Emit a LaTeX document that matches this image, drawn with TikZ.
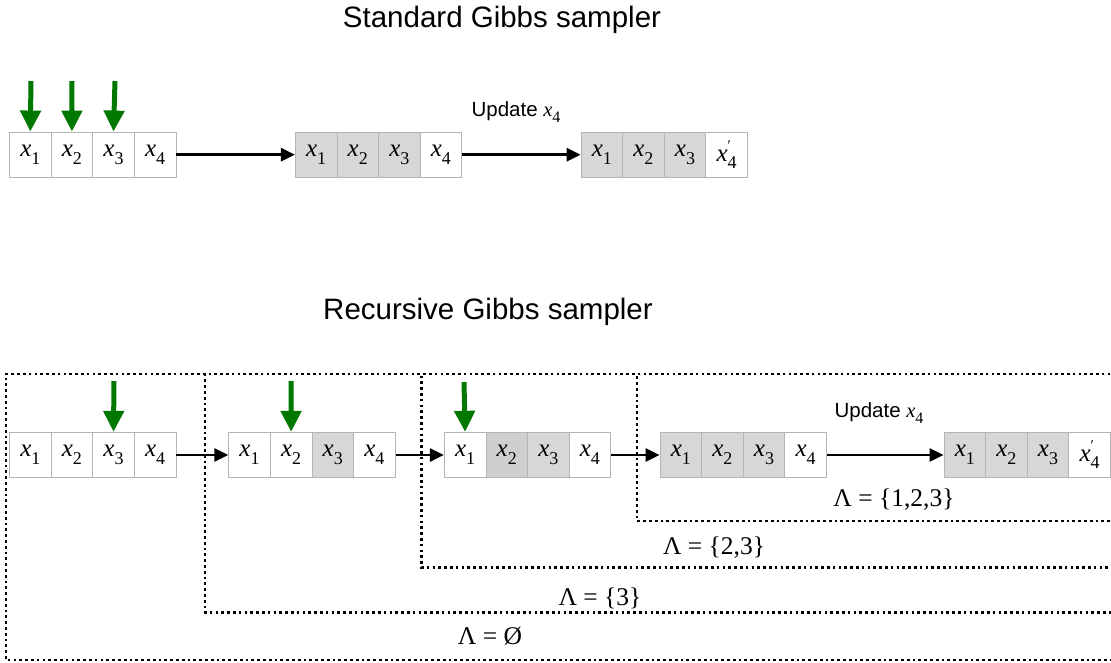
\documentclass[tikz,border=0pt]{standalone}
\usepackage{fontspec}
\setmainfont{Liberation Serif}
\newfontfamily\hel{Liberation Sans}
\usetikzlibrary{arrows.meta}
\definecolor{cellgray}{HTML}{D7D7D7}
\definecolor{cellgrayd}{HTML}{CFCFCF}
\definecolor{cellline}{HTML}{B4B4B4}
\definecolor{pickgreen}{RGB}{0,120,0}
\newcommand\xsub[2][18]{{\itshape x}\raisebox{-0.3em}{\fontsize{#1}{#1}\selectfont #2}}
\newcommand\xprm[1]{{\itshape x}\rlap{\raisebox{0.42em}{\fontsize{15}{15}\selectfont\char"2032}}\raisebox{-0.3em}{\fontsize{18}{18}\selectfont #1}}
\begin{document}
\begin{tikzpicture}[x=1pt,y=-1pt,
  cell/.style={draw=cellline, line width=0.8pt, minimum width=41.6pt, minimum height=45.5pt, inner sep=0pt, font=\fontsize{25}{25}\selectfont},
  gcell/.style={cell, fill=cellgray},
  dcell/.style={cell, fill=cellgrayd},
  flow/.style={-{Triangle[length=14pt,width=13pt]}, line width=2.8pt},
  pick/.style={-{Triangle[length=21pt,width=20pt]}, draw=pickgreen, line width=5pt},
  frame/.style={line width=2.7pt, dash pattern=on 2.7pt off 3.1pt},
  title/.style={font=\hel\fontsize{29.5}{33}\selectfont},
  upd/.style={font=\hel\fontsize{20.5}{23}\selectfont},
  lam/.style={font=\fontsize{25.5}{27}\selectfont}]
\useasboundingbox (0,0) rectangle (1111,662);

% ---------- Standard Gibbs sampler ----------
\node[title] (ttl1) at (502,20) {Standard Gibbs sampler};

\node[cell] (T1-1) at (30.3,154.7) {\xsub{1}};
\node[cell] (T1-2) at (71.9,154.7) {\xsub{2}};
\node[cell] (T1-3) at (113.5,154.7) {\xsub{3}};
\node[cell] (T1-4) at (155.1,154.7) {\xsub{4}};

\node[gcell] (T2-1) at (316.1,154.7) {\xsub{1}};
\node[gcell] (T2-2) at (357.7,154.7) {\xsub{2}};
\node[gcell] (T2-3) at (399.3,154.7) {\xsub{3}};
\node[cell] (T2-4) at (440.9,154.7) {\xsub{4}};

\node[gcell] (T3-1) at (601.8,154.7) {\xsub{1}};
\node[gcell] (T3-2) at (643.4,154.7) {\xsub{2}};
\node[gcell] (T3-3) at (685.0,154.7) {\xsub{3}};
\node[cell] (T3-4) at (726.6,154.7) {\xprm{4}};

\draw[flow] (T1-4.east) -- (T2-1.west);
\draw[flow] (T2-4.east) -- (T3-1.west);
\node[upd] (u1) at (516,112) {Update {\rmfamily\xsub[16]{4}}};

\coordinate (g1) at (31,81);
\coordinate (g2) at (72,81);
\coordinate (g3) at (115,81);
\draw[pick] (g1) -- (T1-1.north);
\draw[pick] (g2) -- (T1-2.north);
\draw[pick] (g3) -- (T1-3.north);

% ---------- Recursive Gibbs sampler ----------
\node[title] (ttl2) at (488,312) {Recursive Gibbs sampler};

\draw[frame] (1116,374) -| (6,660) -- (1116,660);
\draw[frame] (1116,374) -| (205,612.5) -- (1116,612.5);
\draw[frame] (1116,374) -| (421.5,567.5) -- (1116,567.5);
\draw[frame] (1116,374) -| (637,521) -- (1116,521);

\node[cell] (B1-1) at (30.3,455) {\xsub{1}};
\node[cell] (B1-2) at (71.9,455) {\xsub{2}};
\node[cell] (B1-3) at (113.5,455) {\xsub{3}};
\node[cell] (B1-4) at (155.1,455) {\xsub{4}};

\node[cell] (B2-1) at (249.5,455) {\xsub{1}};
\node[cell] (B2-2) at (291.1,455) {\xsub{2}};
\node[gcell] (B2-3) at (332.7,455) {\xsub{3}};
\node[cell] (B2-4) at (374.3,455) {\xsub{4}};

\node[cell] (B3-1) at (465.1,455) {\xsub{1}};
\node[dcell] (B3-2) at (506.7,455) {\xsub{2}};
\node[gcell] (B3-3) at (548.3,455) {\xsub{3}};
\node[cell] (B3-4) at (589.9,455) {\xsub{4}};

\node[gcell] (B4-1) at (680.8,455) {\xsub{1}};
\node[gcell] (B4-2) at (722.4,455) {\xsub{2}};
\node[gcell] (B4-3) at (764.0,455) {\xsub{3}};
\node[cell] (B4-4) at (805.6,455) {\xsub{4}};

\node[gcell] (B5-1) at (964.8,455) {\xsub{1}};
\node[gcell] (B5-2) at (1006.4,455) {\xsub{2}};
\node[gcell] (B5-3) at (1048.0,455) {\xsub{3}};
\node[cell] (B5-4) at (1089.6,455) {\xprm{4}};

\draw[flow] (B1-4.east) -- (B2-1.west);
\draw[flow] (B2-4.east) -- (B3-1.west);
\draw[flow] (B3-4.east) -- (B4-1.west);
\draw[flow] (B4-4.east) -- (B5-1.west);
\node[upd] (u2) at (879,413) {Update {\rmfamily\xsub[16]{4}}};

\coordinate (g4) at (114,381);
\coordinate (g5) at (291,381);
\coordinate (g6) at (464,382);
\draw[pick] (g4) -- (B1-3.north);
\draw[pick] (g5) -- (B2-2.north);
\draw[pick] (g6) -- (B3-1.north);

\node[lam] (l4) at (894,500) {Λ = \{1,2,3\}};
\node[lam] (l3) at (714,548) {Λ = \{2,3\}};
\node[lam] (l2) at (600,598) {Λ = \{3\}};
\node[lam] (l1) at (490,636) {Λ = Ø};
\end{tikzpicture}
\end{document}
